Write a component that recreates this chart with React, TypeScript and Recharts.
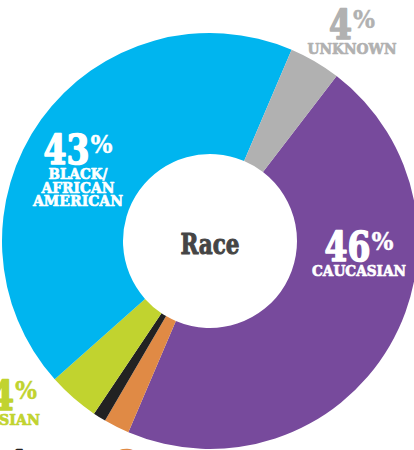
import React from 'react';
import { PieChart, Pie, Cell } from 'recharts';

const categories = ['CAUCASIAN', 'OTHER', 'MULTIRACIAL', 'ASIAN', 'BLACK/AFRICAN AMERICAN', 'UNKNOWN'];
const values = [46, 2, 1, 4, 43, 4];
const sliceColors = ['#774a9c', '#e08a45', '#222222', '#c1d32f', '#00b5ef', '#b1b1b1'];
const labelColors = ['#ffffff', '#e08a45', '#222222', '#c1d32f', '#ffffff', '#b1b1b1'];
const labelLines = [['CAUCASIAN'], ['OTHER'], ['MULTIRACIAL'], ['ASIAN'], ['BLACK/', 'AFRICAN', 'AMERICAN'], ['UNKNOWN']];
const centerTitle = 'Race';

const data = categories.map((name, i) => ({ name, value: values[i] }));

// label layout: offset of the label block centre from the pie centre
const labelLayout = [
  { dx: 149, dy: 20 },
  { dx: -70, dy: 239 },
  { dx: -180, dy: 239 },
  { dx: -196, dy: 169 },
  { dx: -132, dy: -77 },
  { dx: 142, dy: -202 },
];
const lineWidths: Record<string, number> = {
  CAUCASIAN: 94, UNKNOWN: 89, 'BLACK/': 59, AFRICAN: 73, AMERICAN: 90, ASIAN: 52, OTHER: 52, MULTIRACIAL: 110,
};

const FONT = "'DejaVu Serif', serif";

const renderLabel = (props: any) => {
  const { cx, cy, index, value } = props;
  const lay = labelLayout[index];
  const color = labelColors[index];
  const num = String(value);
  const numW = 23 * num.length;
  const pctW = 22;
  const total = numW + pctW + 1;
  const x = cx + lay.dx;
  const y = cy + lay.dy;
  const split = x - total / 2 + numW;
  return (
    <g key={`lbl-${index}`}>
      <text x={split} y={y} textAnchor="end" fontFamily={FONT} fontWeight="bold" fontSize={41}
        fill={color} stroke={color} strokeWidth={1.6} strokeLinejoin="round"
        textLength={numW} lengthAdjust="spacingAndGlyphs">{num}</text>
      <text x={split + 1} y={y - 11} textAnchor="start" fontFamily={FONT} fontWeight="bold" fontSize={24}
        fill={color} stroke={color} strokeWidth={0.4}
        textLength={pctW} lengthAdjust="spacingAndGlyphs">%</text>
      {labelLines[index].map((ln, j) => (
        <text key={j} x={x} y={y + 15 + j * 13.5} textAnchor="middle" fontFamily={FONT} fontWeight="bold"
          fontSize={15} fill={color} stroke={color} strokeWidth={0.7} strokeLinejoin="round"
          textLength={lineWidths[ln]} lengthAdjust="spacingAndGlyphs">{ln}</text>
      ))}
    </g>
  );
};

export default function App() {
  return (
    <div style={{ position: 'fixed', left: 0, top: 0, width: 414, height: 450, overflow: 'hidden', background: '#fff' }}>
      <PieChart width={414} height={520} margin={{ top: 0, right: 0, bottom: 0, left: 0 }}>
        <Pie
          data={data}
          dataKey="value"
          nameKey="name"
          cx={210}
          cy={241}
          innerRadius={87}
          outerRadius={208}
          startAngle={52.5}
          endAngle={-307.5}
          stroke="none"
          labelLine={false}
          label={renderLabel}
          isAnimationActive={false}
        >
          {data.map((d, i) => (
            <Cell key={d.name} fill={sliceColors[i]} />
          ))}
        </Pie>
        <text x={210} y={254} textAnchor="middle" fontFamily={FONT} fontWeight="bold" fontSize={27}
          fill="#454545" stroke="#454545" strokeWidth={1} strokeLinejoin="round"
          textLength={59} lengthAdjust="spacingAndGlyphs">{centerTitle}</text>
      </PieChart>
    </div>
  );
}
